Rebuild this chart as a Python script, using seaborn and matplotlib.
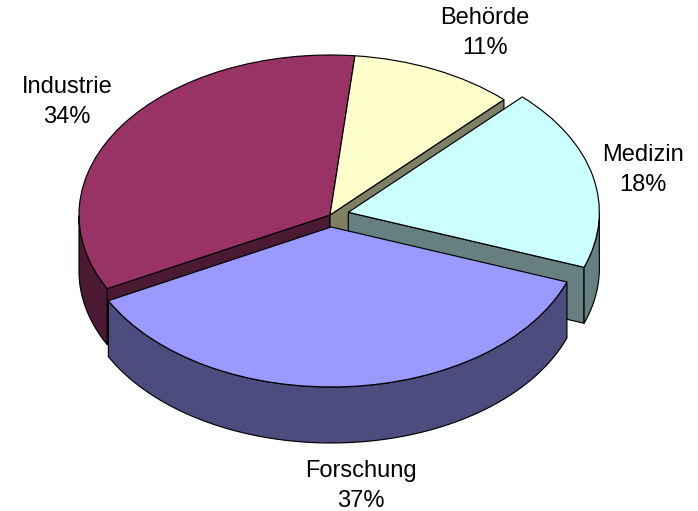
import numpy as np
import seaborn as sns
import matplotlib
matplotlib.use("Agg")
import matplotlib.pyplot as plt
from matplotlib.patches import Polygon

categories = ["Behörde", "Medizin", "Forschung", "Industrie"]
shares = [10.6, 18.4, 36.8, 34.2]
top_colors = ["#FFFFCC", "#CCFFFF", "#9999FF", "#993366"]
side_colors = ["#7F7F66", "#667F7F", "#4C4C7F", "#4C1933"]
explode = [0, 0.075, 0.075, 0]
# pixel spots of the labels (centre of the two lines)
label_spots = [(485, 33), (643, 170), (361, 486), (67, 102)]

W, H = 698, 511
CX, CY = 330, 215      # pie centre in pixels
RX, RY = 251, 160      # ellipse radii in pixels
DEPTH = 56 / RY
LW = 0.85

sns.set_theme(style="white")
plt.rcParams["font.family"] = ["Liberation Sans", "DejaVu Sans"]

fig = plt.figure(figsize=(W / 100, H / 100), dpi=100)
ax = fig.add_axes([0, 0, 1, 1])

wedges, _ = ax.pie(shares, explode=explode, colors=sns.color_palette(top_colors),
                   startangle=84.3, counterclock=False, radius=1,
                   wedgeprops={"edgecolor": "black", "linewidth": LW})
ax.set_aspect("auto")
ax.set_xlim(-CX / RX, (W - CX) / RX)
ax.set_ylim(-(H - CY) / RY, CY / RY)
ax.axis("off")

# back to front
order = {"Industrie": 1, "Behörde": 2, "Medizin": 3, "Forschung": 4}


def extrude(ax, pts, color, z):
	pts = np.array(pts)
	low = pts - [0, DEPTH]
	ax.add_patch(Polygon(np.vstack([pts, low[::-1]]), closed=True, facecolor=color,
	                     edgecolor="black", linewidth=LW, zorder=z))


for w, name, side in zip(wedges, categories, side_colors):
	z = order[name] * 10
	w.set_zorder(z + 3)
	cx, cy = w.center
	mid = np.radians((w.theta1 + w.theta2) / 2)
	for th in [w.theta1, w.theta2]:
		a = np.radians(th)
		# the cut face shows only if the wedge lies on the far side of the edge
		if -np.cos(a) * (np.cos(a) * np.sin(mid) - np.sin(a) * np.cos(mid)) < 0:
			extrude(ax, [(cx, cy), (cx + np.cos(a), cy + np.sin(a))], side, z + 1)
	# outer wall only where the rim faces the viewer
	t = np.linspace(w.theta1, w.theta2, 200)
	t = t[np.sin(np.radians(t)) <= 0]
	if len(t) > 1:
		arc = np.column_stack([cx + np.cos(np.radians(t)), cy + np.sin(np.radians(t))])
		extrude(ax, arc, side, z + 2)

for name, share, (px, py) in zip(categories, shares, label_spots):
	ax.text(px / W, 1 - py / H, name + "\n" + str(round(share)) + "%", transform=ax.transAxes,
	        ha="center", va="center", fontsize=17, color="black", linespacing=1.43)

fig.savefig("out.png", dpi=100)
